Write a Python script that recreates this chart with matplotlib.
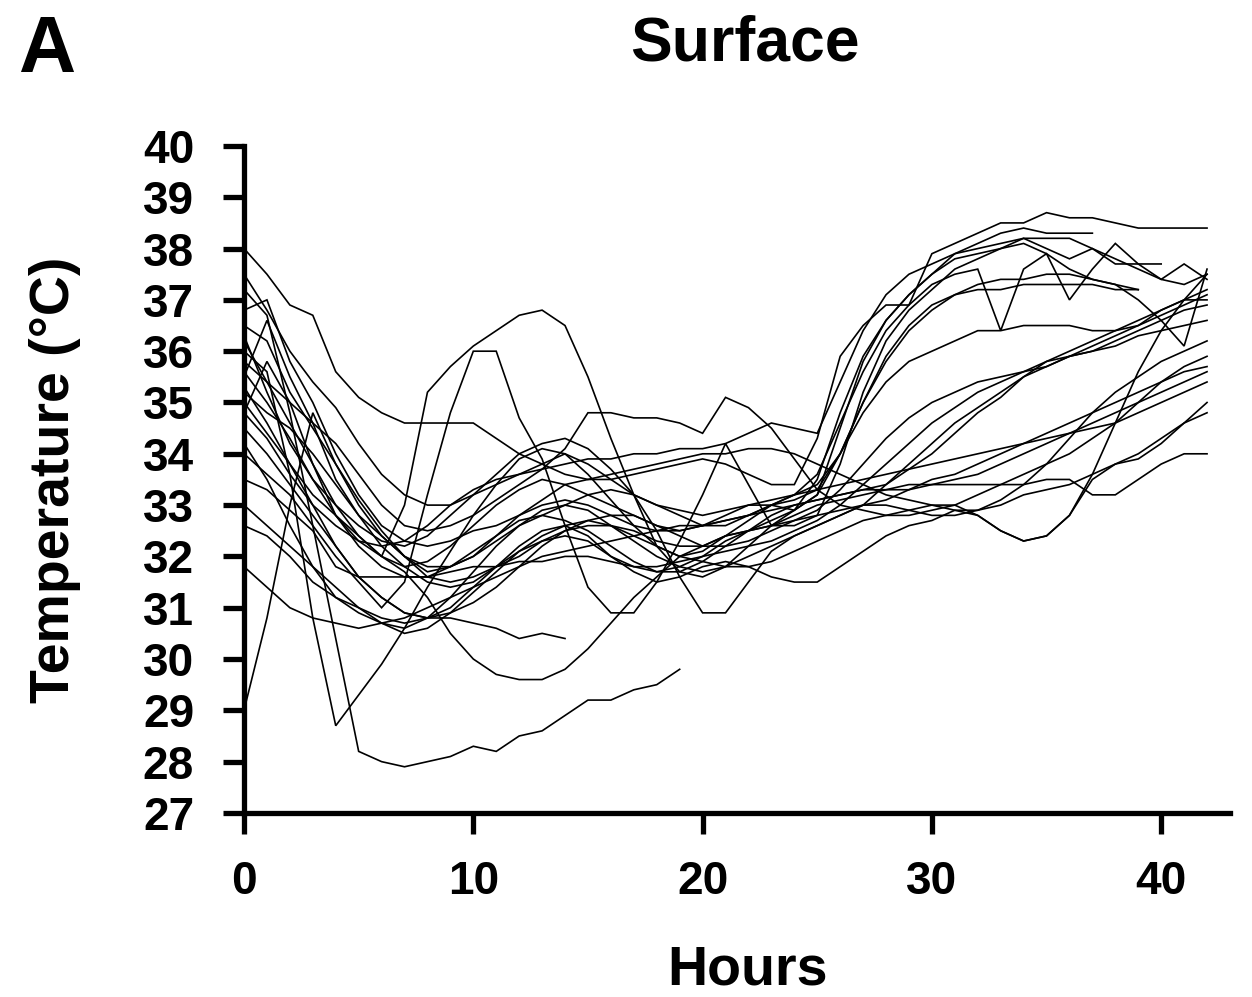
import matplotlib
matplotlib.use("Agg")
import matplotlib.pyplot as plt

plt.rcParams['font.family'] = ['Liberation Sans', 'DejaVu Sans']
plt.rcParams['font.weight'] = 'bold'

hours = list(range(43))

temp_01 = [38.0,37.5,36.9,36.7,35.6,35.1,34.8,34.6,34.6,34.6,34.6,34.3,34.0,33.8,33.6,33.5,33.5,33.6,33.7,33.8,33.9,33.8,33.6,33.4,33.4,34.3,35.9,36.5,36.9,36.9,37.9,38.1,38.3,38.5,38.5,38.7,38.6,38.6,38.5,38.4,38.4,38.4,38.4]
temp_02 = [37.5,36.8,36.0,35.4,34.9,34.2,33.6,33.2,33.0,33.0,33.2,33.4,33.6,33.8,34.0,33.8,33.5,33.2,33.0,32.9,32.8,32.9,33.0,33.0,32.9,33.5,34.8,35.9,36.6,37.1,37.5,37.9,38.1,38.3,38.4,38.3,38.3,38.3]
temp_03 = [36.8,37.0,35.8,35.0,34.0,33.2,32.6,32.3,32.2,32.3,32.5,32.6,32.8,33.0,33.1,33.0,32.8,32.6,32.5,32.5,32.6,32.8,33.0,33.1,33.2,33.6,34.6,35.6,36.4,36.9,37.3,37.5,37.6,36.4,37.6,37.9,37.0,37.6,38.1,37.7,37.4,37.7,37.4]
temp_04 = [36.5,36.2,35.2,34.5,33.8,33.1,32.5,32.0,31.8,31.8,32.0,32.3,32.6,32.8,33.0,33.2,33.3,33.2,33.0,32.8,32.6,32.6,32.8,33.0,33.1,33.3,34.0,35.0,35.9,36.5,36.9,37.1,37.2,37.2,37.3,37.3,37.3,37.3,37.2,37.2]
temp_05 = [35.5,36.6,35.5,34.6,33.5,32.8,32.4,32.0,31.6,31.5,31.6,31.8,32.0,32.3,32.5,32.6,32.6,32.5,32.3,32.2,32.2,32.4,32.5,32.6,32.6,32.8,33.8,35.2,36.2,36.8,37.2,37.6,37.8,38.0,38.2,38.0,37.8,38.0,37.7,37.7,37.7]
temp_06 = [35.2,34.8,34.5,34.0,33.4,32.8,32.2,31.8,31.5,31.4,31.5,31.8,32.1,32.3,32.4,32.3,32.0,31.8,31.7,31.8,32.0,32.3,32.5,32.7,32.9,33.2,34.0,35.0,35.8,36.4,36.8,37.1,37.3,37.4,37.4,37.5,37.5,37.4,37.3,37.0,36.6,36.1,37.6]
temp_07 = [34.8,35.8,35.0,33.8,32.8,32.3,32.0,31.8,31.9,32.2,32.6,33.0,33.3,33.5,33.4,33.2,33.0,32.8,32.6,32.5,32.6,32.7,32.8,33.0,33.2,33.4,34.0,34.8,35.4,35.8,36.0,36.2,36.4,36.4,36.5,36.5,36.5,36.4,36.4,36.5,36.7,36.9,37.1]
temp_08 = [34.5,34.0,33.4,32.8,32.2,31.6,31.2,30.9,30.8,30.9,31.1,31.4,31.8,32.2,32.5,32.7,32.8,32.8,32.6,32.4,32.2,32.2,32.3,32.5,32.7,32.9,33.3,33.8,34.3,34.7,35.0,35.2,35.4,35.5,35.6,35.7,35.9,36.0,36.2,36.4,36.6,36.8,36.9]
temp_09 = [33.5,33.3,32.9,32.5,31.8,31.6,31.6,31.6,31.6,31.7,31.8,31.8,31.9,31.9,32.0,32.0,31.9,31.8,31.8,31.9,32.0,32.1,32.2,32.3,32.5,32.7,33.0,33.4,33.8,34.2,34.6,34.9,35.2,35.4,35.6,35.8,35.9,36.0,36.1,36.3,36.4,36.5,36.6]
temp_10 = [32.6,32.4,32.0,31.5,31.2,31.0,30.8,30.7,30.8,31.0,31.4,31.8,32.2,32.5,32.6,32.4,32.0,31.7,31.5,31.6,31.8,31.9,31.8,31.6,31.5,31.5,31.8,32.1,32.4,32.6,32.7,32.9,32.8,32.5,32.3,32.4,32.8,33.6,34.6,35.6,36.4,37.0,37.5]
temp_11 = [31.8,31.4,31.0,30.8,30.7,30.6,30.7,30.8,31.0,31.2,31.4,31.6,31.8,32.0,32.1,32.2,32.3,32.4,32.5,32.6,32.6,32.7,32.8,32.9,33.0,33.1,33.2,33.3,33.3,33.4,33.4,33.4,33.4,33.4,33.4,33.5,33.5,33.2,33.2,33.5,33.8,34.0,34.0]
temp_12 = [33.0,32.6,32.2,31.8,31.4,31.0,30.7,30.5,30.6,30.9,31.3,31.7,32.1,32.4,32.6,32.7,32.6,32.4,32.2,32.0,31.9,31.8,31.8,31.9,32.1,32.3,32.5,32.7,32.8,32.9,33.0,33.0,32.8,32.5,32.3,32.4,32.8,33.5,33.8,33.9,34.2,34.6,34.8]
temp_13 = [34.2,33.5,32.6,31.8,31.2,30.9,30.7,30.6,30.8,31.2,31.7,32.2,32.6,32.9,33.0,32.9,32.6,32.3,32.0,31.8,31.7,31.8,32.0,32.2,32.4,32.6,32.8,33.0,33.1,33.3,33.5,33.6,33.8,34.0,34.2,34.4,34.6,34.8,35.0,35.2,35.4,35.6,35.7]
temp_14 = [35.6,35.0,34.3,33.5,32.8,32.2,31.8,31.6,31.6,31.8,32.1,32.4,32.7,32.8,32.7,32.5,32.2,31.9,31.7,31.7,31.9,32.2,32.5,32.8,33.0,33.1,33.2,33.3,33.4,33.7,34.0,34.4,34.8,35.1,35.5,35.7,35.9,36.1,36.3,36.5,36.8,37.0,37.2]
temp_15 = [35.0,34.4,33.8,33.2,32.8,32.4,32.0,33.0,35.2,35.7,36.1,36.4,36.7,36.8,36.5,35.5,34.3,33.2,32.2,31.7,31.6,31.8,32.2,32.6,32.9,33.2,34.5,35.8,36.6,37.1,37.5,37.8,37.9,38.0,38.1,37.9,37.6,37.4,37.3,37.2]
temp_16 = [34.0,33.6,33.2,32.6,32.0,31.5,31.0,31.5,33.2,34.8,36.0,36.0,34.7,33.9,32.6,31.4,30.9,30.9,31.5,32.3,33.2,34.2,33.4,32.6,32.8,33.0,33.1,33.2,33.3,33.3,33.4,33.5,33.6,33.8,34.0,34.2,34.4,34.6,34.8,35.0,35.2,35.4,35.6]
temp_17 = [37.2,36.7,34.8,32.6,30.4,28.2,28.0,27.9,28.0,28.1,28.3,28.2,28.5,28.6,28.9,29.2,29.2,29.4,29.5,29.8]
temp_18 = [35.3,34.6,33.8,33.0,32.2,31.6,31.2,30.9,30.8,30.8,30.7,30.6,30.4,30.5,30.4]
temp_19 = [36.2,35.4,34.6,33.8,33.0,32.4,32.0,31.7,31.2,30.5,30.0,29.7,29.6,29.6,29.8,30.2,30.7,31.2,31.6,32.0,32.2,32.4,32.5,32.6,32.7,32.8,32.9,33.0,33.0,32.9,32.8,32.8,32.9,33.1,33.4,33.8,34.3,34.8,35.2,35.5,35.8,36.0,36.2]
temp_20 = [29.0,30.8,33.0,34.8,33.8,33.0,32.4,32.0,31.7,31.8,32.0,32.4,32.8,33.1,33.4,33.5,33.6,33.7,33.8,33.9,34.0,34.0,34.1,34.1,34.0,33.8,33.6,33.4,33.2,33.1,33.0,32.9,32.9,33.0,33.2,33.3,33.4,33.6,33.8,34.0,34.3,34.6,35.0]
temp_21 = [36.0,35.6,33.6,30.8,28.7,29.3,29.9,30.6,31.4,32.1,32.8,33.4,33.9,34.1,34.0,33.6,33.1,32.6,32.2,32.0,32.1,32.4,32.7,33.0,33.2,33.3,33.4,33.5,33.6,33.7,33.8,33.9,34.0,34.1,34.2,34.3,34.4,34.5,34.6,34.8,35.0,35.2,35.4]
temp_22 = [36.3,35.2,34.2,33.5,33.0,32.6,32.3,32.2,32.4,32.8,33.2,33.6,34.0,34.2,34.3,34.1,33.7,33.2,32.5,31.6,30.9,30.9,31.5,32.1,32.4,32.6,32.8,33.0,33.4,33.8,34.2,34.6,34.9,35.2,35.5,35.8,36.0,36.2,36.4,36.6,36.8,37.0,37.0]
temp_23 = [35.8,35.4,35.0,34.6,34.2,33.6,33.0,32.6,32.5,32.6,32.8,33.1,33.4,33.7,34.1,34.8,34.8,34.7,34.7,34.6,34.4,35.1,34.9,34.5,33.9,33.3,33.0,32.9,32.8,32.8,32.9,33.0,33.2,33.4,33.6,33.8,34.0,34.3,34.6,35.0,35.4,35.7,35.9]
temp_24 = [34.8,34.3,33.6,33.0,32.6,32.3,32.2,32.3,32.6,33.0,33.3,33.5,33.6,33.7,33.8,33.9,33.9,34.0,34.0,34.1,34.1,34.2,34.4,34.6,34.5,34.4,35.4,36.4,37.1,37.5,37.7,37.9,38.0,38.1,38.2,38.2,38.2,38.0,37.8,37.6,37.4,37.3,37.5]

series = [temp_01, temp_02, temp_03, temp_04, temp_05, temp_06, temp_07, temp_08,
          temp_09, temp_10, temp_11, temp_12, temp_13, temp_14, temp_15, temp_16,
          temp_17, temp_18, temp_19, temp_20, temp_21, temp_22, temp_23, temp_24]

y_ticks = list(range(27, 41))
x_ticks = [0, 10, 20, 30, 40]

fig = plt.figure(figsize=(12.52, 9.97), dpi=100)
ax = fig.add_axes([0.1949, 0.1846, 0.7875, 0.669])

for s in series:
    ax.plot(hours[:len(s)], s, color='black', linewidth=1.2, solid_joinstyle='miter')

ax.set_xlim(0, 43)
ax.set_ylim(27, 40)
ax.set_xticks(x_ticks)
ax.set_yticks(y_ticks)
for side in ['top', 'right']:
    ax.spines[side].set_visible(False)
for side in ['left', 'bottom']:
    ax.spines[side].set_linewidth(3.8)
ax.tick_params(axis='both', direction='out', length=15, width=3.8, labelsize=33, pad=19)
ax.tick_params(axis='y', pad=21)
for lbl in ax.get_xticklabels() + ax.get_yticklabels():
    lbl.set_fontweight('bold')

fig.text(0.0144, 0.9485, 'A', fontsize=57, fontweight='bold', ha='left', va='center')
fig.text(0.595, 0.956, 'Surface', fontsize=45, fontweight='bold', ha='center', va='center')
fig.text(0.044, 0.519, 'Temperature (°C)', fontsize=40, fontweight='bold', rotation=90,
         ha='center', va='center')
fig.text(0.597, 0.027, 'Hours', fontsize=40, fontweight='bold', ha='center', va='center')

fig.savefig('out.png', dpi=100)
